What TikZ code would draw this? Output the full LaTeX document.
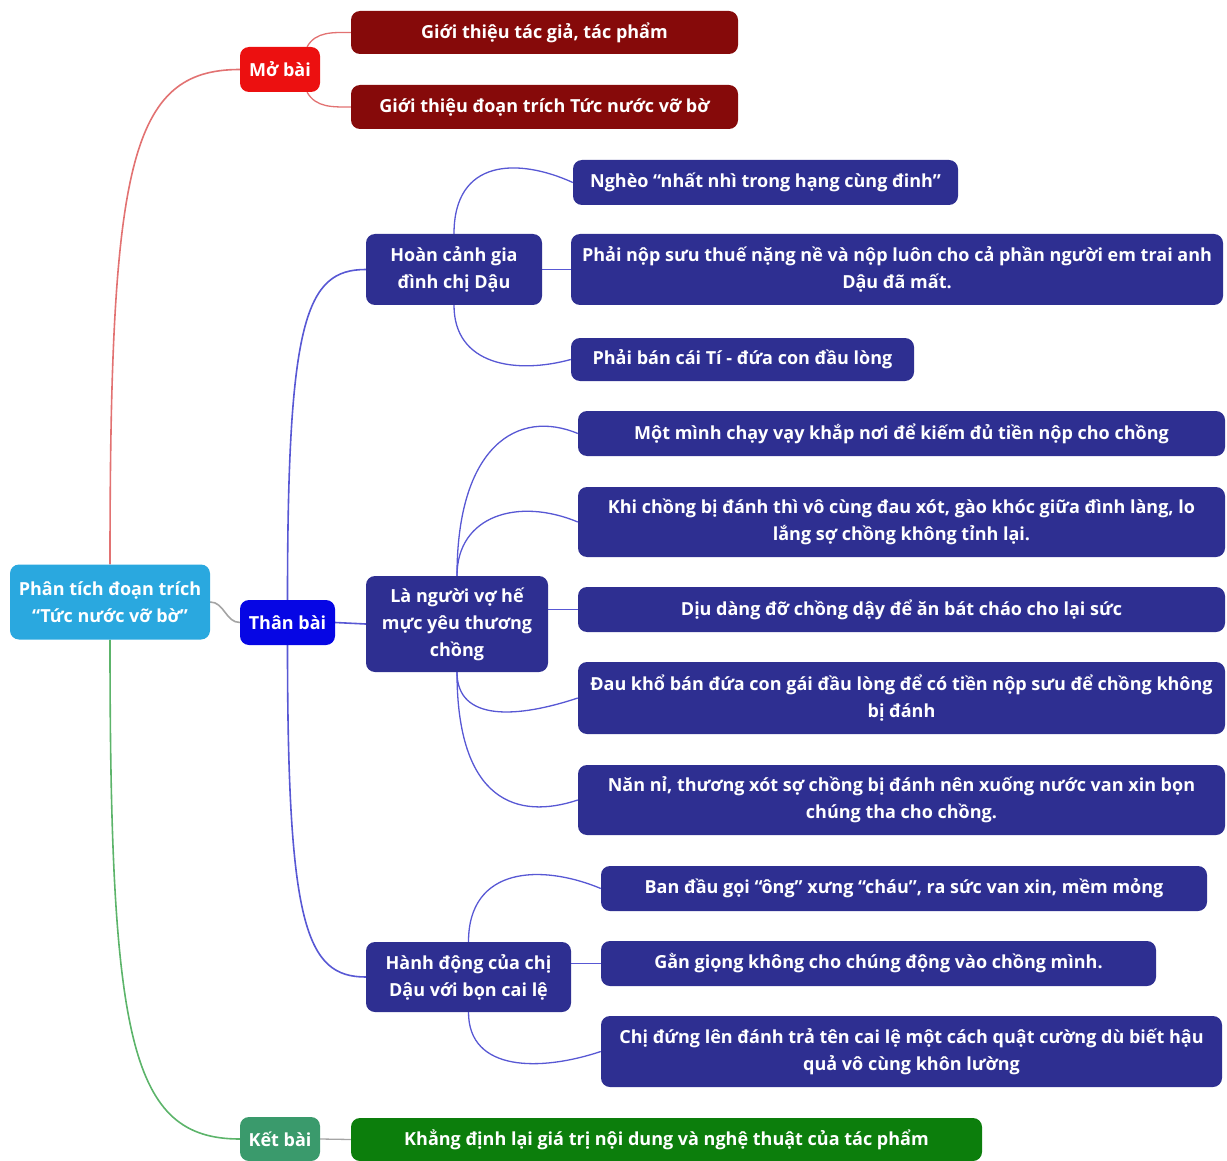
\documentclass[tikz,border=0pt]{standalone}
\usepackage{fontspec}
\setmainfont{Open Sans}
\usepackage{xcolor}
\usepackage{tikz}
\usetikzlibrary{backgrounds}
\definecolor{RootBlue} {HTML}{2AA8DF}
\definecolor{MoRed}    {HTML}{EC1010}
\definecolor{DarkRed}  {HTML}{860A0A}
\definecolor{ThanBlue} {HTML}{0606E4}
\definecolor{Indigo}   {HTML}{2E2F91}
\definecolor{KetTeal}  {HTML}{3A9A6C}
\definecolor{KetGreen} {HTML}{0C7E0C}
\definecolor{MoLine}   {HTML}{E27272}
\definecolor{ThanLine} {HTML}{5858D4}
\definecolor{KetLine}  {HTML}{5CB46A}
\definecolor{GreyLine} {HTML}{A4A4A4}

\begin{document}
\begin{tikzpicture}[x=1pt, y=1pt, font=\fontsize{18}{27}\selectfont\bfseries,
  box/.style={rounded corners=9pt, text=white, align=center, inner sep=0pt},
  branch/.style={line width=1.6pt},
  twig/.style={line width=1.3pt}]

  \useasboundingbox (0,0) rectangle (1227,-1161);

  % ===== ROOT =====
  \node[box, fill=RootBlue, minimum width=200, minimum height=75] (root) at (110,-602)
        {Phân tích đoạn trích\\“Tức nước vỡ bờ”};

  % ===== MO BAI =====
  \node[box, fill=MoRed, minimum width=80, minimum height=45] (mb) at (280,-69.5) {Mở bài};
  \node[box, fill=DarkRed, minimum width=387, minimum height=43] (gt1) at (544.5,-32.5)
        {Giới thiệu tác giả, tác phẩm};
  \node[box, fill=DarkRed, minimum width=387, minimum height=44] (gt2) at (544.5,-107)
        {Giới thiệu đoạn trích Tức nước vỡ bờ};

  % ===== THAN BAI =====
  \node[box, fill=ThanBlue, minimum width=95, minimum height=45] (tb) at (287.5,-622.5) {Thân bài};

  % hoan canh
  \node[box, fill=Indigo, minimum width=176, minimum height=71] (hc) at (454,-269.5)
        {Hoàn cảnh gia\\đình chị Dậu};
  \node[box, fill=Indigo, minimum width=385, minimum height=45] (ngheo) at (765.5,-182.5)
        {Nghèo “nhất nhì trong hạng cùng đinh”};
  \node[box, fill=Indigo, minimum width=652, minimum height=71] (phainop) at (897,-269.5)
        {Phải nộp sưu thuế nặng nề và nộp luôn cho cả phần người em trai anh\\Dậu đã mất.};
  \node[box, fill=Indigo, minimum width=343, minimum height=43] (phaiban) at (742.5,-359.5)
        {Phải bán cái Tí - đứa con đầu lòng};

  % nguoi vo
  \node[box, fill=Indigo, minimum width=182, minimum height=96] (lnv) at (457,-624)
        {Là người vợ hế\\mực yêu thương\\chồng};
  \node[box, fill=Indigo, minimum width=647, minimum height=45] (motminh) at (901.5,-433.5)
        {Một mình chạy vạy khắp nơi để kiếm đủ tiền nộp cho chồng};
  \node[box, fill=Indigo, minimum width=647, minimum height=70] (khichong) at (901.5,-522)
        {Khi chồng bị đánh thì vô cùng đau xót, gào khóc giữa đình làng, lo\\lắng sợ chồng không tỉnh lại.};
  \node[box, fill=Indigo, minimum width=647, minimum height=45] (diudang) at (901.5,-609.5)
        {Dịu dàng đỡ chồng dậy để ăn bát cháo cho lại sức};
  \node[box, fill=Indigo, minimum width=647, minimum height=72] (daukho) at (901.5,-698)
        {Đau khổ bán đứa con gái đầu lòng để có tiền nộp sưu để chồng không\\bị đánh};
  \node[box, fill=Indigo, minimum width=647, minimum height=70] (nanni) at (901.5,-800)
        {Năn nỉ, thương xót sợ chồng bị đánh nên xuống nước van xin bọn\\chúng tha cho chồng.};

  % hanh dong
  \node[box, fill=Indigo, minimum width=205, minimum height=70] (hd) at (468.5,-977)
        {Hành động của chị\\Dậu với bọn cai lệ};
  \node[box, fill=Indigo, minimum width=606, minimum height=45] (bandau) at (904,-888.5)
        {Ban đầu gọi “ông” xưng “cháu”, ra sức van xin, mềm mỏng};
  \node[box, fill=Indigo, minimum width=555, minimum height=45] (gangiong) at (878.5,-963.5)
        {Gằn giọng không cho chúng động vào chồng mình.};
  \node[box, fill=Indigo, minimum width=621, minimum height=71] (chidung) at (911.5,-1051.5)
        {Chị đứng lên đánh trả tên cai lệ một cách quật cường dù biết hậu\\quả vô cùng khôn lường};

  % ===== KET BAI =====
  \node[box, fill=KetTeal, minimum width=80, minimum height=44] (kb) at (280,-1139) {Kết bài};
  \node[box, fill=KetGreen, minimum width=631, minimum height=43] (khangdinh) at (666.5,-1139.5)
        {Khẳng định lại giá trị nội dung và nghệ thuật của tác phẩm};

  % ===== CONNECTORS =====
  \begin{scope}[on background layer]
    \draw[branch, MoLine] (root.north) .. controls +(0,400) and +(-110,0) .. (mb.west);
    \draw[branch, GreyLine] (root.east) to[out=0, in=180] (tb.west);
    \draw[branch, KetLine] (root.south) .. controls +(0,-400) and +(-110,0) .. (kb.west);

    \draw[twig, MoLine] (mb.40) to[out=60, in=180] (gt1.west);
    \draw[twig, MoLine] (mb.-40) to[out=-60, in=180] (gt2.west);

    \draw[branch, ThanLine] (tb.north) .. controls +(0,280) and +(-60,0) .. (hc.west);
    \draw[branch, ThanLine] (tb.east) -- (lnv.west);
    \draw[branch, ThanLine] (tb.south) .. controls +(0,-280) and +(-60,0) .. (hd.west);

    \draw[twig, ThanLine] (hc.north) .. controls +(0,75) and +(-55,25) .. (ngheo.west);
    \draw[twig, ThanLine] (hc.east) -- (phainop.west);
    \draw[twig, ThanLine] (hc.south) .. controls +(0,-60) and +(-55,-15) .. (phaiban.west);

    \draw[twig, ThanLine] (lnv.north) .. controls +(0,130) and +(-60,25) .. (motminh.west);
    \draw[twig, ThanLine] (lnv.north) .. controls +(0,60) and +(-60,25) .. (khichong.west);
    \draw[twig, ThanLine] (diudang.west -| lnv.east) -- (diudang.west);
    \draw[twig, ThanLine] (lnv.south) .. controls +(0,-50) and +(-60,-20) .. (daukho.west);
    \draw[twig, ThanLine] (lnv.south) .. controls +(0,-130) and +(-60,-20) .. (nanni.west);

    \draw[twig, ThanLine] (hd.north) .. controls +(0,75) and +(-60,25) .. (bandau.west);
    \draw[twig, ThanLine] (gangiong.west -| hd.east) -- (gangiong.west);
    \draw[twig, ThanLine] (hd.south) .. controls +(0,-60) and +(-60,-20) .. (chidung.west);

    \draw[twig, GreyLine] (kb.east) -- (khangdinh.west);
  \end{scope}

\end{tikzpicture}
\end{document}
